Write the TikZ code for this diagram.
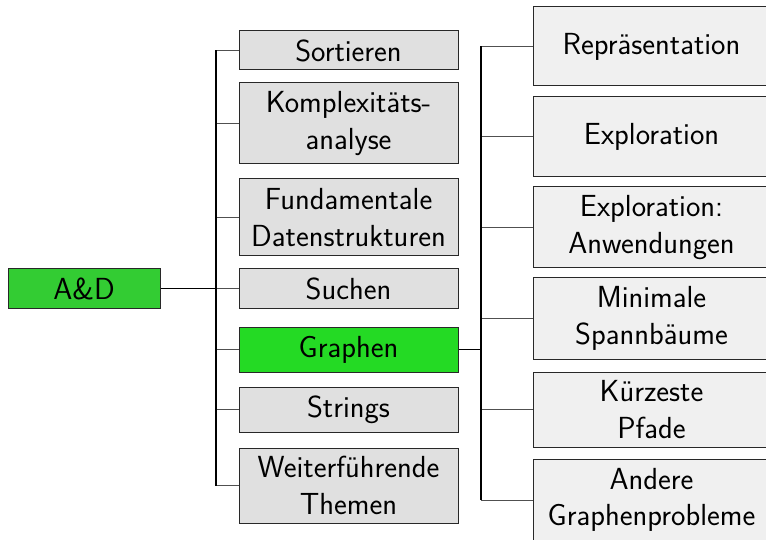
\documentclass[tikz,border=0pt]{standalone}
\usepackage{tikz}
\definecolor{adgreen}{RGB}{51,204,51}
\definecolor{grgreen}{RGB}{36,218,36}
\definecolor{midgrey}{RGB}{224,224,224}
\definecolor{rightgrey}{RGB}{240,240,240}
\definecolor{boxline}{RGB}{40,40,40}
\definecolor{branchline}{RGB}{80,80,80}
\begin{document}
\begin{tikzpicture}[x=1pt,y=-1pt,
  box/.style={draw=boxline,line width=1pt,rectangle,align=center,inner sep=0pt,
    font=\sffamily\fontsize{30.5}{36.5}\selectfont},
  midbox/.style={box,fill=midgrey,minimum width=219pt},
  rightbox/.style={box,fill=rightgrey,minimum width=237pt},
  trunk/.style={draw=black,line width=1.4pt},
  mainline/.style={draw=black,line width=1.8pt},
  branch/.style={draw=branchline,line width=1pt}]
\clip (0,0) rectangle (766,540);
\fill[white] (0,0) rectangle (766,540);
% root
\node[box,fill=adgreen,minimum width=152pt,minimum height=39pt] (AD) at (84,288.5) {A\&D};
% middle column
\node[midbox,minimum height=39pt] (Sort) at (348.5,50.5) {Sortieren};
\node[midbox,minimum height=81pt] (Komp) at (348.5,123.5) {Komplexitäts-\\analyse};
\node[midbox,minimum height=77pt] (Fund) at (348.5,217.5) {Fundamentale\\Datenstrukturen};
\node[midbox,minimum height=39pt] (Such) at (348.5,288.5) {Suchen};
\node[box,fill=grgreen,minimum width=219pt,minimum height=45pt] (Graph) at (348.5,349.5) {Graphen};
\node[midbox,minimum height=45pt] (Str) at (348.5,409.5) {Strings};
\node[midbox,minimum height=75pt] (Weit) at (348.5,485.5) {Weiterführende\\Themen};
% right column
\node[rightbox,minimum height=79pt] (Repr) at (651.5,46.5) {Repräsentation};
\node[rightbox,minimum height=80pt] (Expl) at (651.5,137) {Exploration};
\node[rightbox,minimum height=81pt] (ExplA) at (651.5,227.5) {Exploration:\\Anwendungen};
\node[rightbox,minimum height=81pt] (Min) at (651.5,318.5) {Minimale\\Spannbäume};
\node[rightbox,minimum height=75pt] (Kurz) at (651.5,409.5) {Kürzeste\\Pfade};
\node[rightbox,minimum height=82pt] (And) at (651.5,500) {Andere\\Graphenprobleme};
% buses
\coordinate (busL) at (216,0);
\coordinate (busR) at (481,0);
% left tree
\foreach \n in {Sort,Komp,Fund,Such,Graph,Str,Weit}
  \draw[branch] (\n.west -| busL) -- (\n.west);
\draw[trunk] (Sort.west -| busL) -- (Weit.west -| busL);
\draw[mainline] (AD.east) -- (AD.east -| busL);
% right tree
\foreach \n in {Repr,Expl,ExplA,Min,Kurz,And}
  \draw[branch] (\n.west -| busR) -- (\n.west);
\draw[trunk] (Repr.west -| busR) -- (And.west -| busR);
\draw[mainline] (Graph.east) -- (Graph.east -| busR);
\end{tikzpicture}
\end{document}
